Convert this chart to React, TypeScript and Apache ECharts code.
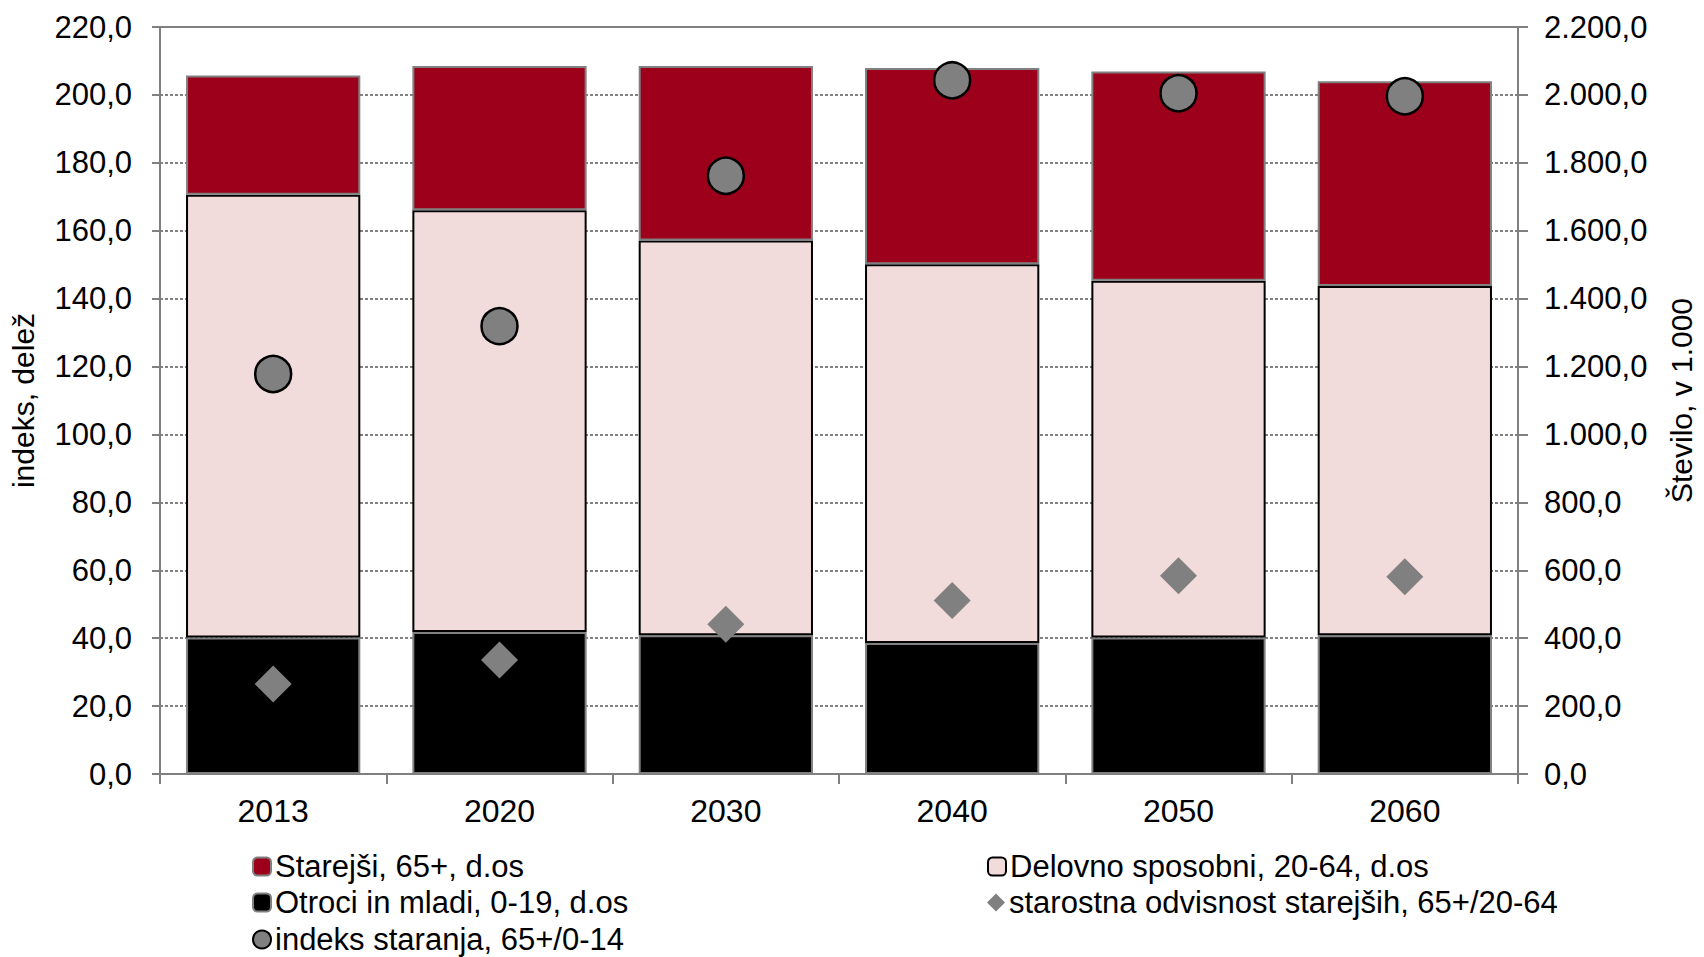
import React, { useEffect, useRef } from "react";
import * as echarts from "echarts";

const years = ["2013", "2020", "2030", "2040", "2050", "2060"];
const otroci = [402, 418, 409, 386, 402, 409];
const delovno = [1304, 1242, 1162, 1115, 1051, 1028];
const starejsi = [351, 425, 514, 578, 616, 603];
const indeksStaranja = [117.8, 131.9, 176.2, 204.3, 200.5, 199.6];
const odvisnost = [26.5, 33.6, 44.1, 51.1, 58.4, 58.1];

const nStarejsi = "Starejši, 65+, d.os";
const nDelovno = "Delovno sposobni, 20-64, d.os";
const nOtroci = "Otroci in mladi, 0-19, d.os";
const nOdvisnost = "starostna odvisnost starejših, 65+/20-64";
const nIndeks = "indeks staranja, 65+/0-14";

const FONT = "'Liberation Sans', Arial, sans-serif";
const GRAY = "#808080";

function fmtLeft(v: number) {
  return v.toFixed(1).replace(".", ",");
}
function fmtRight(v: number) {
  const s = Math.round(v).toString().replace(/\B(?=(\d{3})+(?!\d))/g, ".");
  return s + ",0";
}

export default function App() {
  const ref = useRef<HTMLDivElement>(null);
  useEffect(() => {
    document.body.style.margin = "0";
    const chart = echarts.init(ref.current!, undefined, { renderer: "svg" });
    const legendText = { fontSize: 31, color: "#000", fontFamily: FONT, padding: [0, 0, 0, -1] };
    const legendItem = (name: string, left: number, top: number, w = 18, h = 18) => ({
      orient: "horizontal",
      left,
      top,
      padding: 0,
      itemWidth: w,
      itemHeight: h,
      itemGap: 0,
      textStyle: legendText,
      data: [name],
    });
    chart.setOption({
      animation: false,
      backgroundColor: "#fff",
      textStyle: { fontFamily: FONT },
      grid: {
        left: 160,
        right: 183,
        top: 27,
        bottom: 183,
        show: true,
        borderColor: GRAY,
        borderWidth: 2,
      },
      legend: [
        legendItem(nStarejsi, 252, 851),
        legendItem(nOtroci, 252, 887),
        legendItem(nIndeks, 252, 924, 18, 22),
        legendItem(nDelovno, 987, 851),
        legendItem(nOdvisnost, 987, 887),
      ],
      xAxis: {
        type: "category",
        data: years,
        boundaryGap: true,
        axisLine: { lineStyle: { color: GRAY, width: 2 } },
        axisTick: { show: true, length: 10, lineStyle: { color: GRAY, width: 2 } },
        axisLabel: { color: "#000", fontSize: 32, margin: 21, fontFamily: FONT },
      },
      yAxis: [
        {
          type: "value",
          min: 0,
          max: 220,
          interval: 20,
          name: "indeks, delež",
          nameLocation: "middle",
          nameGap: 122,
          nameRotate: 90,
          nameTextStyle: { fontSize: 30, color: "#000", fontFamily: FONT },
          axisLine: { show: true, lineStyle: { color: GRAY, width: 2 } },
          axisTick: { show: true, length: 8, lineStyle: { color: GRAY, width: 2 } },
          axisLabel: { color: "#000", fontSize: 31, margin: 28, formatter: fmtLeft, fontFamily: FONT },
          splitLine: { show: true, lineStyle: { color: GRAY, width: 2, type: [3, 2] } },
        },
        {
          type: "value",
          min: 0,
          max: 2200,
          interval: 200,
          position: "right",
          name: "Število, v 1.000",
          nameLocation: "middle",
          nameGap: 148,
          nameRotate: 90,
          nameTextStyle: { fontSize: 30, color: "#000", fontFamily: FONT },
          axisLine: { show: true, lineStyle: { color: GRAY, width: 2 } },
          axisTick: { show: true, length: 10, lineStyle: { color: GRAY, width: 2 } },
          axisLabel: { color: "#000", fontSize: 31, margin: 26, formatter: fmtRight, fontFamily: FONT },
          splitLine: { show: false },
        },
      ],
      series: [
        {
          name: nOtroci,
          type: "bar",
          stack: "pop",
          yAxisIndex: 1,
          barCategoryGap: "23%",
          data: otroci,
          itemStyle: { color: "#000000", borderColor: GRAY, borderWidth: 2 },
        },
        {
          name: nDelovno,
          type: "bar",
          stack: "pop",
          yAxisIndex: 1,
          barCategoryGap: "23%",
          data: delovno,
          itemStyle: { color: "#F2DCDB", borderColor: "#000", borderWidth: 2 },
        },
        {
          name: nStarejsi,
          type: "bar",
          stack: "pop",
          yAxisIndex: 1,
          barCategoryGap: "23%",
          data: starejsi,
          itemStyle: { color: "#9C001B", borderColor: GRAY, borderWidth: 2 },
        },
        {
          name: nOdvisnost,
          type: "scatter",
          yAxisIndex: 0,
          symbol: "diamond",
          symbolSize: 37,
          z: 5,
          data: odvisnost,
          itemStyle: { color: GRAY, borderWidth: 0, opacity: 1 },
        },
        {
          name: nIndeks,
          type: "scatter",
          yAxisIndex: 0,
          symbol: "circle",
          symbolSize: 36,
          z: 6,
          data: indeksStaranja,
          itemStyle: { color: GRAY, borderColor: "#000", borderWidth: 2.5, opacity: 1 },
        },
      ],
    });
    return () => chart.dispose();
  }, []);
  return <div ref={ref} style={{ width: 1704, height: 957 }} />;
}
